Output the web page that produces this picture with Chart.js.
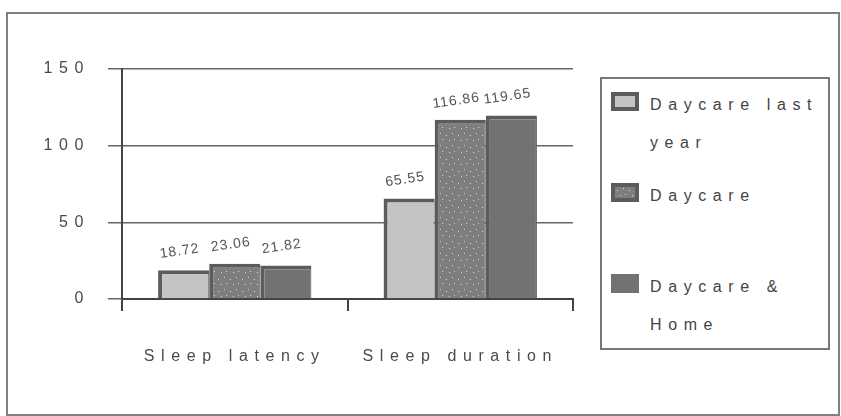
<!DOCTYPE html>
<html>
<head>
<meta charset="utf-8">
<script src="https://cdn.jsdelivr.net/npm/chart.js@4"></script>
<style>
  body { margin: 0; background: #fff; width: 841px; height: 416px; overflow: hidden; position: relative;
         font-family: "Liberation Sans", Arial, sans-serif; }
  #frame { position: absolute; left: 6px; top: 12px; width: 830px; height: 400px; border: 2px solid #808080; }
  #chartBox { position: absolute; left: 0; top: 0; width: 595px; height: 400px; }
  #legend { position: absolute; left: 600px; top: 77px; width: 226px; height: 269px; border: 2px solid #777; }
  .item { position: relative; height: 91px; }
  .swatch { position: absolute; left: 9px; top: 13px; width: 28px; height: 19px; box-sizing: border-box; }
  .label { position: absolute; left: 48px; top: 7px; width: 172px; font-size: 16px; line-height: 38px;
           letter-spacing: 6.6px; color: #444; }
</style>
</head>
<body>
<div id="frame"></div>
<div id="chartBox"><canvas id="chart"></canvas></div>
<div id="legend"></div>
<script>
const categories = ["Sleep latency", "Sleep duration"];
const seriesNames = ["Daycare last year", "Daycare", "Daycare & Home"];
const lastYear = [18.72, 65.55];
const daycare = [23.06, 116.86];
const daycareHome = [21.82, 119.65];
const yTicks = [0, 50, 100, 150];

const FONT = '"Liberation Sans", Arial, sans-serif';

// speckled fill for the middle series
function speckle() {
  const c = document.createElement("canvas");
  c.width = c.height = 12;
  const g = c.getContext("2d");
  g.fillStyle = "#7e7e7e";
  g.fillRect(0, 0, 12, 12);
  g.fillStyle = "#d8d8d8";
  [[2, 3], [8, 1], [5, 8], [10, 7]].forEach(([x, y]) => g.fillRect(x, y, 1, 1));
  return c;
}
const speckleCanvas = speckle();
const ctx = document.getElementById("chart").getContext("2d");
const speckleFill = ctx.createPattern(speckleCanvas, "repeat");

const fills = ["#c4c4c4", speckleFill, "#727272"];
const swatchCss = ["#c4c4c4", `url(${speckleCanvas.toDataURL()})`, "#727272"];
const values = [lastYear, daycare, daycareHome];

// legend
const legendEl = document.getElementById("legend");
seriesNames.forEach((name, i) => {
  const item = document.createElement("div");
  item.className = "item";
  const border = i < 2 ? "border:4px solid #5c5c5c;" : "";
  item.innerHTML = `<div class="swatch" style="background:${swatchCss[i]};${border}"></div>
                    <div class="label">${name.replace("&", "&amp;")}</div>`;
  legendEl.appendChild(item);
});

const spacingPlugin = {
  id: "spacing",
  beforeDraw(chart) { chart.ctx.letterSpacing = "6.6px"; }
};

const valueLabels = {
  id: "valueLabels",
  afterDatasetsDraw(chart) {
    const c = chart.ctx;
    chart.data.datasets.forEach((ds, i) => {
      chart.getDatasetMeta(i).data.forEach((bar, j) => {
        c.save();
        c.letterSpacing = "1px";
        c.translate(bar.x - 3, bar.y - 12);
        c.rotate(-0.14);
        c.font = `14px ${FONT}`;
        c.fillStyle = "#555";
        c.textAlign = "center";
        c.textBaseline = "bottom";
        c.fillText(ds.data[j].toFixed(2), 0, 0);
        c.restore();
      });
    });
  }
};

new Chart(ctx, {
  type: "bar",
  data: {
    labels: categories,
    datasets: seriesNames.map((name, i) => ({
      label: name,
      data: values[i],
      backgroundColor: fills[i],
      borderColor: "#5c5c5c",
      borderWidth: { top: 4, left: 4, right: 1, bottom: 0 },
      borderSkipped: false,
      barPercentage: 1,
      categoryPercentage: 0.68
    }))
  },
  options: {
    responsive: true,
    maintainAspectRatio: false,
    animation: false,
    layout: { padding: { top: 69, right: 22, left: 0, bottom: 0 } },
    plugins: { legend: { display: false }, tooltip: { enabled: false } },
    scales: {
      x: {
        afterFit(scale) { scale.height = 101; },
        grid: { display: true, drawOnChartArea: false, offset: true, tickLength: 12, color: "#444", lineWidth: 2 },
        border: { color: "#444", width: 2 },
        ticks: { font: { family: FONT, size: 16 }, color: "#4a4a4a", padding: 36 }
      },
      y: {
        min: 0,
        max: 150,
        afterFit(scale) { scale.width = 122; },
        afterBuildTicks(scale) { scale.ticks = yTicks.map(v => ({ value: v })); },
        grid: { color: "#666", lineWidth: 1.5, tickLength: 14 },
        border: { color: "#444", width: 2 },
        ticks: { font: { family: FONT, size: 16 }, color: "#4a4a4a", padding: 18 }
      }
    }
  },
  plugins: [spacingPlugin, valueLabels]
});
</script>
</body>
</html>
